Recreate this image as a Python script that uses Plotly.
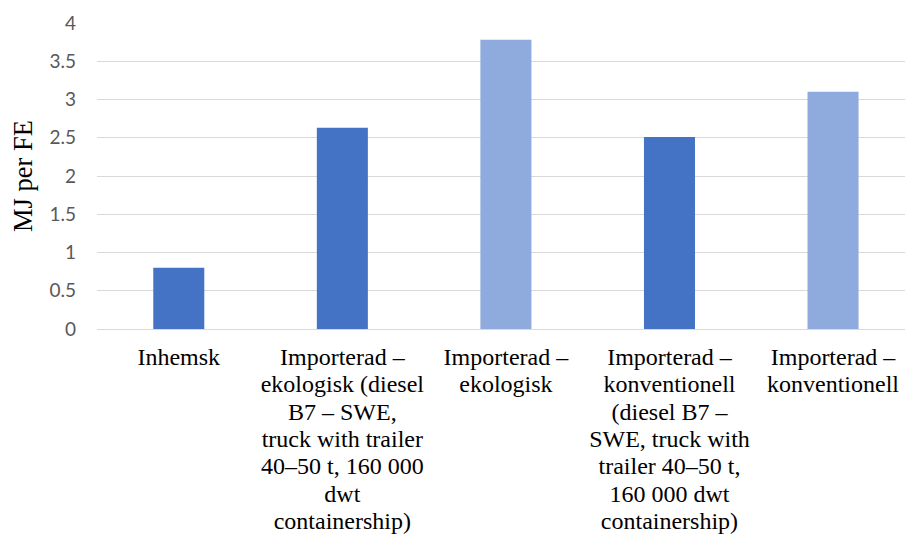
import plotly.graph_objects as go

# Energy use per functional unit for domestic vs imported produce
categories = [
    "Inhemsk",
    "Importerad –<br>ekologisk (diesel<br>B7 – SWE,<br>truck with trailer<br>40–50 t, 160 000<br>dwt<br>containership)",
    "Importerad –<br>ekologisk",
    "Importerad –<br>konventionell<br>(diesel B7 –<br>SWE, truck with<br>trailer 40–50 t,<br>160 000 dwt<br>containership)",
    "Importerad –<br>konventionell",
]
values = [0.80, 2.63, 3.78, 2.51, 3.10]
y_ticks = [0, 0.5, 1, 1.5, 2, 2.5, 3, 3.5, 4]
y_title = "MJ per FE"

DARK = "#4472C4"
LIGHT = "#8FAADC"
bar_colors = [DARK, DARK, LIGHT, DARK, LIGHT]

SERIF = "Liberation Serif, Times New Roman, serif"
LABEL_PX = 24      # glyph size of the category labels
LINE_BASE_PX = 21  # base size that sets the (tighter) line pitch


def styled_label(text):
    # enlarge glyphs line by line while keeping the base line pitch
    return "<br>".join(
        f'<span style="font-size:{LABEL_PX}px">{line}</span>' for line in text.split("<br>")
    )


fig = go.Figure(
    go.Bar(
        x=categories,
        y=values,
        marker=dict(color=bar_colors, line=dict(width=0)),
        hoverinfo="y",
    )
)

fig.update_layout(
    width=905,
    height=535,
    margin=dict(l=97, r=0, t=23, b=206),
    paper_bgcolor="white",
    plot_bgcolor="white",
    bargap=0.688,
    showlegend=False,
    xaxis=dict(
        type="category",
        range=[-0.5, 4.44],
        tickvals=categories,
        ticktext=[styled_label(c) for c in categories],
        showgrid=False,
        showline=False,
        zeroline=False,
        ticks="",
        tickangle=0,
        tickfont=dict(family=SERIF, size=LINE_BASE_PX, color="#000000"),
        ticklabelstandoff=14,
        automargin=False,
    ),
    yaxis=dict(
        range=[0, 4],
        tickvals=y_ticks,
        ticktext=[f"{v:g}" for v in y_ticks],
        showgrid=True,
        gridcolor="#D9D9D9",
        gridwidth=1,
        zeroline=True,
        zerolinecolor="#D9D9D9",
        zerolinewidth=1,
        showline=False,
        ticks="",
        tickfont=dict(family="Lato, Open Sans, sans-serif", size=19, color="#595959"),
        ticklabelstandoff=20,
        automargin=False,
    ),
    annotations=[
        dict(
            text=y_title,
            xref="paper",
            yref="paper",
            x=(23 - 97) / 808,
            y=0.5,
            xanchor="center",
            yanchor="middle",
            textangle=-90,
            showarrow=False,
            font=dict(family=SERIF, size=26.5, color="#000000"),
        )
    ],
)

fig.write_html("out.html")
